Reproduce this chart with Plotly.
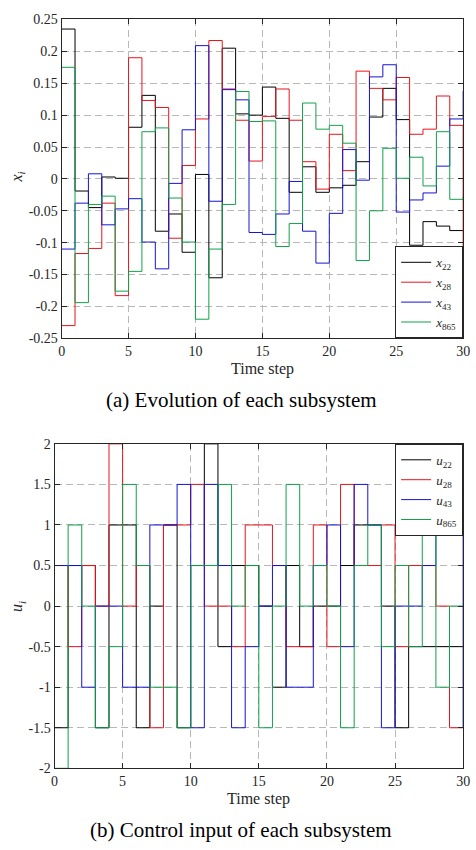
import plotly.graph_objects as go

# ---------------- data ----------------
steps = list(range(31))

# (a) state evolution
x22 = [0.235, -0.019, -0.045, 0.003, 0.001, 0.081, 0.131, -0.082, -0.055, -0.115,
       0.007, -0.155, 0.205, 0.102, 0.100, 0.144, 0.095, -0.021, 0.019, -0.021,
       -0.014, -0.010, 0.027, 0.097, 0.142, 0.093, -0.104, -0.067, -0.074, -0.081,
       -0.081]
x28 = [-0.230, -0.117, -0.109, -0.038, -0.183, 0.190, 0.123, 0.112, -0.093, 0.021,
       0.094, 0.217, 0.141, 0.092, 0.028, 0.098, 0.141, 0.092, 0.027, -0.016,
       0.070, 0.013, 0.169, 0.142, 0.124, 0.159, 0.070, 0.078, 0.130, 0.084,
       -0.108]
x43 = [-0.110, -0.038, 0.008, -0.072, -0.047, -0.031, -0.099, -0.141, -0.007, 0.077,
       0.209, -0.035, 0.140, 0.124, -0.084, -0.087, -0.055, -0.004, -0.082, -0.132,
       -0.054, 0.046, -0.002, 0.160, 0.179, -0.052, -0.033, -0.022, 0.020, 0.094,
       0.138]
x865 = [0.175, -0.194, -0.040, -0.027, -0.176, -0.145, 0.074, 0.080, -0.030, -0.099,
        -0.220, -0.110, -0.040, 0.137, 0.090, 0.091, -0.106, -0.070, 0.119, 0.078,
        0.084, 0.056, -0.128, -0.050, 0.048, 0.001, 0.034, -0.011, 0.074, -0.032,
        -0.028]

# (b) control inputs
u22 = [-1.5, 0.5, 0.5, -1.5, 1, 1, -1.5, 0, 1, -1.5,
       0.5, 2, -0.5, 0.5, 0.5, 0, -1, 0.5, -0.5, 0,
       0, 0.5, 1, 1, 0, -1.5, -0.5, -0.5, -0.5, -0.5,
       -0.5]
u28 = [0.5, -0.5, 0.5, 0, 2, 0, 0.5, -1.5, 1, 1,
       1.5, 0, 0, -0.5, 1, 1, 0.5, -0.5, -0.5, 1,
       -0.5, 1.5, 0.5, 0.5, 1, -0.5, 0.5, 0.5, 0, -1.5,
       -1.5]
u43 = [0.5, 0.5, -1, 0, 0, -1, -1, 1, 1, 1.5,
       -1.5, 1.5, 0.5, -1.5, -0.5, 0, 0.5, -1, -1, 0.5,
       1, -0.5, 1.5, 1, -1.5, 0, 0, 0.5, 1, 1,
       -1.5]
u865 = [-2, 1, 0, -1.5, -0.5, 1.5, 0.5, -1, -1, -1.5,
        0.5, 0.5, 1.5, 0, 0.5, -1.5, 0, 1.5, 0, 0.5,
        0, -1.5, 0.5, 1, -0.5, 0.5, -0.5, 1, -1, 0,
        0]

x_ticks = [0, 5, 10, 15, 20, 25, 30]
top_y_ticks = [-0.25, -0.2, -0.15, -0.1, -0.05, 0, 0.05, 0.1, 0.15, 0.2, 0.25]
bot_y_ticks = [-2, -1.5, -1, -0.5, 0, 0.5, 1, 1.5, 2]

top_names = ["<i>x</i><sub>22</sub>", "<i>x</i><sub>28</sub>",
             "<i>x</i><sub>43</sub>", "<i>x</i><sub>865</sub>"]
bot_names = ["<i>u</i><sub>22</sub>", "<i>u</i><sub>28</sub>",
             "<i>u</i><sub>43</sub>", "<i>u</i><sub>865</sub>"]

colors = ["#000000", "#e8141c", "#1414d2", "#12a04a"]

FONT = "Liberation Serif"
W, H = 476, 850

fig = go.Figure()
for vals, name, col in zip([x22, x28, x43, x865], top_names, colors):
    fig.add_trace(go.Scatter(x=steps, y=vals, mode="lines", name=name,
                             line=dict(shape="hv", color=col, width=1),
                             xaxis="x", yaxis="y", legend="legend"))
for vals, name, col in zip([u22, u28, u43, u865], bot_names, colors):
    fig.add_trace(go.Scatter(x=steps, y=vals, mode="lines", name=name,
                             line=dict(shape="hv", color=col, width=1),
                             xaxis="x2", yaxis="y2", legend="legend2"))


def fmt(v):
    return f"{v:g}"


def px_x(p):
    return p / W


def px_y(p):
    return 1 - p / H


axis_common = dict(
    showline=True, linecolor="#262626", linewidth=1, mirror="allticks",
    ticks="inside", ticklen=5, tickcolor="#262626",
    showgrid=True, gridcolor="#b8b8b8", gridwidth=1, griddash="7px,4px",
    zeroline=False, ticklabeloverflow="allow",
    tickfont=dict(family=FONT, size=14, color="#262626"),
)

legend_common = dict(
    bgcolor="white", bordercolor="#262626", borderwidth=1,
    font=dict(family=FONT, size=13, color="#262626"),
    itemwidth=30, tracegroupgap=0,
)

fig.update_layout(
    width=W, height=H,
    margin=dict(l=0, r=0, t=0, b=0),
    paper_bgcolor="white", plot_bgcolor="white",
    font=dict(family=FONT, color="#262626"),
    xaxis=dict(domain=[px_x(59), px_x(470)], anchor="y", range=[0, 30],
               tickvals=x_ticks, ticktext=[fmt(v) for v in x_ticks], **axis_common),
    yaxis=dict(domain=[px_y(337.3), px_y(12.7)], anchor="x", range=[-0.25, 0.25],
               tickvals=top_y_ticks, ticktext=[fmt(v) for v in top_y_ticks], **axis_common),
    xaxis2=dict(domain=[px_x(51.7), px_x(470)], anchor="y2", range=[0, 30],
                tickvals=x_ticks, ticktext=[fmt(v) for v in x_ticks], **axis_common),
    yaxis2=dict(domain=[px_y(775), px_y(444.7)], anchor="x2", range=[-2, 2],
                tickvals=bot_y_ticks, ticktext=[fmt(v) for v in bot_y_ticks], **axis_common),
    legend=dict(x=px_x(470), y=px_y(337.3), xanchor="right", yanchor="bottom",
                **legend_common),
    legend2=dict(x=px_x(470), y=px_y(444.7), xanchor="right", yanchor="top",
                 **legend_common),
    showlegend=True,
)

ann_font = dict(family=FONT, color="#262626")
annotations = [
    dict(text="Time step", x=px_x(264.5), y=px_y(368), font=dict(size=16, **ann_font)),
    dict(text="Time step", x=px_x(261), y=px_y(806), font=dict(size=16, **ann_font)),
    dict(text="<i>x<sub>i</sub></i>", x=px_x(14), y=px_y(173), textangle=-90,
         font=dict(size=16, **ann_font)),
    dict(text="<i>u<sub>i</sub></i>", x=px_x(14), y=px_y(610), textangle=-90,
         font=dict(size=16, **ann_font)),
    dict(text="(a) Evolution of each subsystem", x=px_x(243), y=px_y(400),
         font=dict(size=21, family=FONT, color="black")),
    dict(text="(b) Control input of each subsystem", x=px_x(243), y=px_y(838),
         font=dict(size=21, family=FONT, color="black")),
]
for a in annotations:
    a.update(xref="paper", yref="paper", showarrow=False,
             xanchor="center", yanchor="middle")
fig.update_layout(annotations=annotations)

fig.write_html("out.html")
